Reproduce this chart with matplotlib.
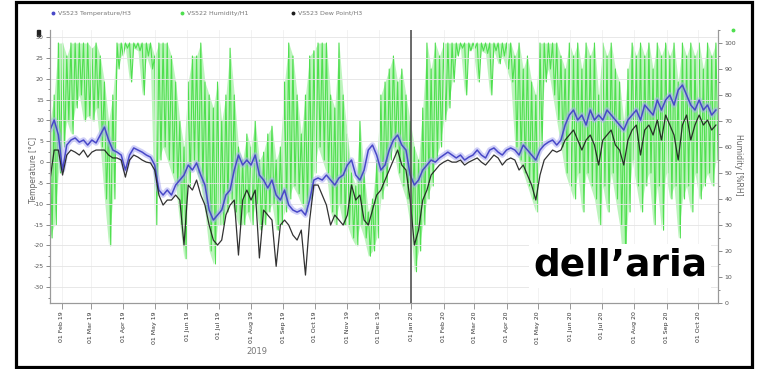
import matplotlib
matplotlib.use("Agg")
import matplotlib.pyplot as plt
import matplotlib.dates as mdates
from matplotlib.ticker import MultipleLocator, FixedLocator
from matplotlib.patches import Rectangle
from matplotlib.lines import Line2D
import pandas as pd

# ---------------- data ----------------
START = "2019-01-21"
STEP_DAYS = 4
X_START = "2019-01-21"
X_END = "2020-10-20"
YEAR_SPLIT = "2020-01-01"

temperature = [
    7.7, 10.1, 6.5, -1.9, 4.1, 5.3, 5.8, 4.8, 5.3, 4.1, 5.3, 4.6, 6.5,
    8.4, 5.3, 2.9, 2.4, 1.7, -1.9, 1.7, 3.4, 2.9, 2.4, 1.7, 1.2,
    -0.7, -6.7, -7.9, -6.7, -7.9, -5.5, -4.3, -3.1, -0.7, -1.9, -0.2, -3.1, -5.5, -11.5, -13.9, -12.7,
    -11.5, -7.9, -6.7, -1.9, 1.7, -0.7, 0.5, -0.7, 1.7, -3.1,
    -4.3, -6.2, -4.3, -7.9, -9.1, -6.7, -10.3, -11.5, -12.0, -11.5,
    -12.7, -9.1, -4.3, -3.8, -4.3, -3.1, -4.3, -5.5, -3.8, -3.1,
    -0.7, 0.5, -3.1, -4.3, -1.9, 2.9, 4.1, 1.7, -1.9, -0.7,
    2.9, 5.3, 6.5, 4.1, 2.9, -3.1, -5.5, -4.3, -1.9, -0.7,
    0.5, 0.0, 1.0, 1.7, 2.4, 1.7, 1.0, 1.7, 0.5, 1.2,
    1.7, 2.9, 1.7, 1.0, 2.9, 3.4, 2.4, 1.7, 2.9, 3.4,
    2.9, 1.7, 4.1, 2.9, 1.7, 0.5, 2.9, 4.1, 4.8, 5.3,
    4.1, 5.3,
    8.9, 11.3, 12.5, 10.1, 11.3, 8.9, 12.5, 10.1, 11.3, 10.1,
    12.5, 11.3, 10.1, 8.9, 7.7, 10.1, 11.3, 12.5, 10.1, 13.7,
    12.5, 11.3, 14.9, 12.5, 14.9, 16.1, 13.7, 17.3, 18.5, 16.1,
    13.7, 12.5, 14.9, 12.5, 13.7, 11.3, 12.5,
]

dew_point = [
    -4.3, 2.9, 2.9, -3.1, 1.7, 2.9, 2.4, 1.7, 2.9, 1.2, 2.4, 2.9, 2.9,
    2.9, 1.7, 1.0, 1.0, 0.5, -3.6, 0.5, 1.7, 1.2, 0.5, 0.0, -0.2,
    -1.9, -7.9, -10.3, -9.1, -9.1, -7.9, -9.1, -19.9, -5.5, -6.7, -4.3, -7.9, -10.3, -15.1, -18.7, -19.9,
    -18.7, -12.7, -10.3, -9.1, -22.3, -9.1, -6.7, -9.1, -6.7, -23.0,
    -11.5, -12.7, -13.9, -25.0, -15.1, -13.9, -15.1, -17.5, -18.7, -16.3,
    -27.1, -13.9, -5.5, -5.5, -7.9, -10.3, -15.1, -12.7, -13.9, -15.1,
    -12.7, -5.5, -9.1, -7.9, -13.9, -15.1, -11.5, -7.9, -6.7, -4.3,
    -1.9, 0.5, 2.9, -0.7, -1.9, -9.1, -19.9, -16.3, -9.1, -6.7,
    -3.1, -1.9, -0.7, 0.0, 0.5, 0.0, 0.0, 0.5, -0.7, 0.0,
    0.5, 1.0, 0.0, -0.7, 0.5, 1.7, 1.0, -0.7, 0.5, 1.0,
    0.5, -1.9, -0.7, -3.1, -5.5, -9.1, -3.1, 0.5, 1.7, 2.9,
    2.4, 2.9,
    5.3, 6.5, 7.7, 5.3, 2.9, 5.3, 6.5, 4.1, -0.7, 5.3,
    6.5, 7.7, 4.1, 2.9, -0.7, 5.3, 7.7, 8.9, 1.7, 7.7,
    8.9, 6.5, 10.1, 5.3, 11.3, 8.9, 6.5, 0.5, 8.9, 11.3,
    5.3, 8.9, 11.3, 8.9, 10.1, 7.7, 8.9,
]

humidity_high = [
    70, 80, 100, 100, 95, 100, 100, 100, 100, 100, 98, 100, 95,
    85, 70, 80, 100, 100, 100, 100, 100, 100, 100, 100, 100,
    95, 100, 100, 100, 95, 85, 70, 60, 85, 95, 95, 100, 85, 80, 75, 85,
    70, 80, 98, 80, 60, 55, 65, 60, 70, 55,
    58, 65, 68, 55, 60, 85, 100, 95, 80, 65,
    80, 95, 97, 100, 100, 100, 80, 75, 100, 80,
    65, 50, 45, 70, 50, 35, 40, 55, 80, 85,
    90, 95, 85, 90, 80, 70, 60, 55, 75, 100,
    90, 100, 95, 100, 100, 100, 100, 100, 100, 100,
    100, 100, 100, 100, 100, 100, 100, 100, 100, 100,
    95, 100, 90, 95, 85, 80, 100, 100, 100, 100,
    100, 95,
    90, 100, 95, 100, 90, 100, 95, 100, 80, 100,
    95, 100, 90, 85, 70, 90, 100, 95, 100, 95,
    100, 90, 100, 95, 100, 95, 100, 85, 100, 95,
    100, 95, 100, 90, 100, 95, 100,
]

humidity_low = [
    25, 30, 50, 60, 70, 65, 75, 80, 70, 72, 70, 75, 60,
    40, 22, 40, 90, 95, 98, 85, 98, 97, 80, 95, 90,
    30, 55, 60, 55, 50, 45, 30, 17, 45, 55, 50, 45, 35, 20, 15, 30,
    30, 35, 40, 35, 30, 30, 35, 30, 38, 28,
    30, 35, 38, 28, 30, 35, 40, 45, 42, 38,
    35, 40, 50, 60, 55, 50, 35, 30, 38, 30,
    30, 25, 22, 30, 25, 18, 20, 25, 40, 45,
    55, 60, 50, 45, 40, 30, 12, 20, 30, 40,
    45, 55, 60, 70, 75, 85, 95, 98, 80, 97,
    98, 85, 97, 96, 80, 97, 92, 95, 90, 85,
    60, 55, 50, 45, 40, 35, 60, 85, 90, 80,
    70, 60,
    50, 45, 40, 50, 35, 50, 45, 40, 30, 45,
    35, 50, 40, 30, 12, 35, 55, 45, 35, 45,
    50, 30, 45, 28, 50, 40, 45, 25, 40, 45,
    35, 50, 40, 45, 50, 45, 55,
]

temp_ticks = [30, 25, 20, 15, 10, 5, 0, -5, -10, -15, -20, -25, -30]
hum_ticks = [100, 90, 80, 70, 60, 50, 40, 30, 20, 10, 0]
legend_labels = ["VS523 Temperature/H3", "VS522 Humidity/H1", "VS523 Dew Point/H3"]
temp_label = "Temperature [°C]"
hum_label = "Humidity [%RH]"
year_label = "2019"
overlay_text = "dell\u2019aria"

# ---------------- figure ----------------
W, H = 757, 369
fig = plt.figure(figsize=(W / 100, H / 100), dpi=100)
fig.patch.set_facecolor("white")

def fx(px):
    return px / W

def fy(py):
    return 1 - py / H

ax = fig.add_axes([fx(50), fy(303), fx(718) - fx(50), fy(30) - fy(303)])
ax2 = ax.twinx()

dates = pd.date_range(START, periods=len(temperature), freq=f"{STEP_DAYS}D")
half = pd.Timedelta(days=STEP_DAYS / 2)
zig_x, zig_y = [], []
for d, hi, lo in zip(dates, humidity_high, humidity_low):
    zig_x += [d, d + half]
    zig_y += [hi, lo]

# humidity (right axis)
ax2.fill_between(dates, humidity_low, humidity_high, color="#b5f3b5", lw=0, alpha=0.9)
ax2.plot(zig_x, zig_y, color="#4fdf4f", lw=0.8)
ax2.set_ylim(0, 105)

# temperatures (left axis, drawn on top)
ax.set_zorder(ax2.get_zorder() + 1)
ax.patch.set_visible(False)
ax.plot(dates, temperature, color="#a9a9f2", lw=4.0, alpha=0.55, solid_capstyle="round")
ax.plot(dates, temperature, color="#4848c8", lw=1.1)
ax.plot(dates, dew_point, color="#1c1c1c", lw=0.9, alpha=0.9)
ax.set_ylim(-33.8, 31.7)
ax.set_xlim(pd.Timestamp(X_START), pd.Timestamp(X_END))
ax.axvline(pd.Timestamp(YEAR_SPLIT), color="#444444", lw=1.1, zorder=5)

# axes styling
for a in (ax, ax2):
    a.spines["top"].set_visible(False)
    for s in ("left", "right", "bottom"):
        a.spines[s].set_color("#9a9a9a")
        a.spines[s].set_linewidth(0.8)

ax.yaxis.set_major_locator(FixedLocator(temp_ticks))
ax.set_yticklabels([str(t) for t in temp_ticks])
ax.yaxis.set_minor_locator(MultipleLocator(2.5))
ax2.yaxis.set_major_locator(FixedLocator(hum_ticks))
ax2.set_yticklabels([str(t) for t in hum_ticks])
ax2.yaxis.set_minor_locator(MultipleLocator(5))

ax.xaxis.set_major_locator(mdates.MonthLocator())
ax.xaxis.set_major_formatter(mdates.DateFormatter("%d %b %y"))
ax.tick_params(axis="x", labelsize=4.5, labelcolor="#333333", rotation=90,
               length=4, width=0.6, color="#888888", pad=2)
ax.tick_params(axis="y", labelsize=4.5, labelcolor="#555555", length=3,
               width=0.6, color="#777777", pad=1.5)
ax.tick_params(axis="y", which="minor", length=1.5, width=0.6, color="#777777")
ax2.tick_params(axis="y", labelsize=4.5, labelcolor="#555555", length=3,
                width=0.6, color="#777777", pad=1.5)
ax2.tick_params(axis="y", which="minor", length=1.5, width=0.6, color="#777777")

ax.grid(True, axis="y", which="major", color="#e4e4e4", lw=0.6)
ax.grid(True, axis="x", which="major", color="#f0f0f0", lw=0.6)

# axis titles
fig.text(fx(33), fy(170), temp_label, rotation=90, ha="center", va="center",
         fontsize=5.5, color="#666666")
fig.text(fx(739), fy(165), hum_label, rotation=270, ha="center", va="center",
         fontsize=5.5, color="#666666")
fig.text(fx(257), fy(352), year_label, ha="center", va="center",
         fontsize=6, color="#777777")

# legend row
legend_colors = ["#4848c8", "#4fdf4f", "#1c1c1c"]
legend_marker_x = [53, 182, 293]
for lx, lab, col in zip(legend_marker_x, legend_labels, legend_colors):
    fig.add_artist(Line2D([fx(lx)], [fy(13)], marker="o", markersize=1.8,
                          color=col, transform=fig.transFigure))
    fig.text(fx(lx + 5), fy(13), lab, ha="left", va="center",
             fontsize=4.5, color="#777777")

# little markers at axis tops
fig.add_artist(Rectangle((fx(37), fy(36)), fx(2.5), fy(30) - fy(36),
                         transform=fig.transFigure, color="#222222"))
fig.add_artist(Line2D([fx(733)], [fy(30)], marker="o", markersize=1.8,
                      color="#4fdf4f", transform=fig.transFigure))

# overlay caption
fig.text(fx(620), fy(266), overlay_text, ha="center", va="center",
         fontsize=27, fontweight="bold", color="black", zorder=20,
         bbox=dict(facecolor="white", edgecolor="none", pad=3))

# outer black frame
fig.add_artist(Rectangle((fx(16), fy(366.5)), fx(751.5) - fx(16), fy(1.5) - fy(366.5),
                         transform=fig.transFigure, fill=False, lw=2.3,
                         edgecolor="black"))

fig.savefig("out.png", dpi=100)
